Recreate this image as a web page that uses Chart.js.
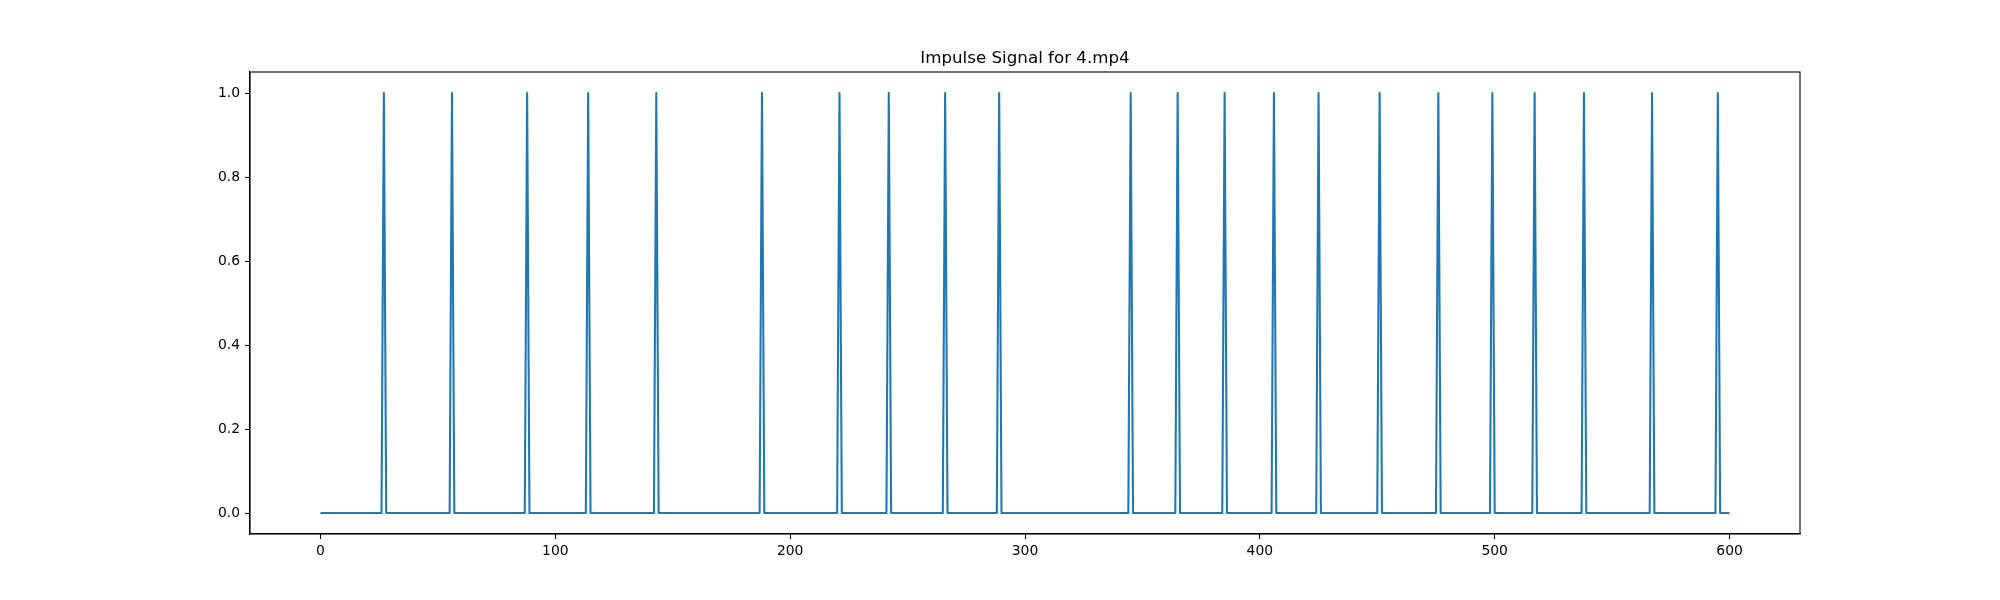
<!DOCTYPE html>
<html>
<head>
<meta charset="utf-8">
<title>Impulse Signal for 4.mp4</title>
<script src="https://cdn.jsdelivr.net/npm/chart.js@4.4.1/dist/chart.umd.min.js"></script>
<style>
  html, body { margin: 0; padding: 0; background: #fff; }
  canvas { display: block; }
</style>
</head>
<body>
<canvas id="impulseChart" width="2000" height="600"></canvas>
<script>
// ==========================================
// DATA
// ==========================================
const chartTitle = 'Impulse Signal for 4.mp4';
const firstFrame = 0;
const lastFrame = 600;
// frames where the impulse fires (value 1), every other frame is 0
const spikeFrames = [27, 56, 88, 114, 143, 188, 221, 242, 266, 289,
                     345, 365, 385, 406, 425, 451, 476, 499, 517, 538, 567, 595];
const xTicks = [0, 100, 200, 300, 400, 500, 600];
const yTicks = [0.0, 0.2, 0.4, 0.6, 0.8, 1.0];

// one sample per frame
const frames = [];
const signal = [];
for (let f = firstFrame; f <= lastFrame; f++) {
    frames.push(f);
    signal.push(spikeFrames.includes(f) ? 1 : 0);
}
const points = frames.map((f, i) => ({ x: f, y: signal[i] }));

// ==========================================
// CHART
// ==========================================
const FONT = 'DejaVu Sans, sans-serif';

// box round the plot + title, like matplotlib
const frameAndTitle = {
    id: 'frameAndTitle',
    afterDraw(chart) {
        const a = chart.chartArea;
        const ctx = chart.ctx;
        ctx.save();
        ctx.strokeStyle = '#000';
        ctx.lineWidth = 1.1;
        ctx.strokeRect(a.left, a.top, a.right - a.left, a.bottom - a.top);
        ctx.fillStyle = '#000';
        ctx.font = '16.7px ' + FONT;
        ctx.textAlign = 'center';
        ctx.textBaseline = 'alphabetic';
        ctx.fillText(chartTitle, (a.left + a.right) / 2, a.top - 9);
        ctx.restore();
    }
};

const ctx = document.getElementById('impulseChart').getContext('2d');
new Chart(ctx, {
    type: 'line',
    data: {
        datasets: [{
            data: points,
            borderColor: '#1f77b4',
            borderWidth: 2.08,
            pointRadius: 0,
            tension: 0,
            fill: false,
            borderJoinStyle: 'round'
        }]
    },
    options: {
        responsive: false,
        animation: false,
        devicePixelRatio: 1,
        layout: { padding: { left: 0, right: 200, top: 72, bottom: 0 } },
        plugins: {
            legend: { display: false },
            title: { display: false },
            tooltip: { enabled: false }
        },
        scales: {
            x: {
                type: 'linear',
                min: -30,
                max: 630,
                afterBuildTicks: s => { s.ticks = xTicks.map(v => ({ value: v })); },
                afterFit: s => { s.height = 66; },
                grid: { display: true, drawOnChartArea: false, drawTicks: true, tickLength: 5, color: '#000', tickWidth: 1.1 },
                border: { display: true, color: '#000', width: 1.1 },
                ticks: {
                    color: '#000',
                    font: { family: FONT, size: 13.9 },
                    padding: 4,
                    maxRotation: 0,
                    callback: v => String(v)
                }
            },
            y: {
                type: 'linear',
                min: -0.05,
                max: 1.05,
                afterBuildTicks: s => { s.ticks = yTicks.map(v => ({ value: v })); },
                afterFit: s => { s.width = 250; },
                grid: { display: true, drawOnChartArea: false, drawTicks: true, tickLength: 5, color: '#000', tickWidth: 1.1 },
                border: { display: true, color: '#000', width: 1.1 },
                ticks: {
                    color: '#000',
                    font: { family: FONT, size: 13.9 },
                    padding: 5,
                    callback: v => Number(v).toFixed(1)
                }
            }
        }
    },
    plugins: [frameAndTitle]
});
</script>
</body>
</html>
